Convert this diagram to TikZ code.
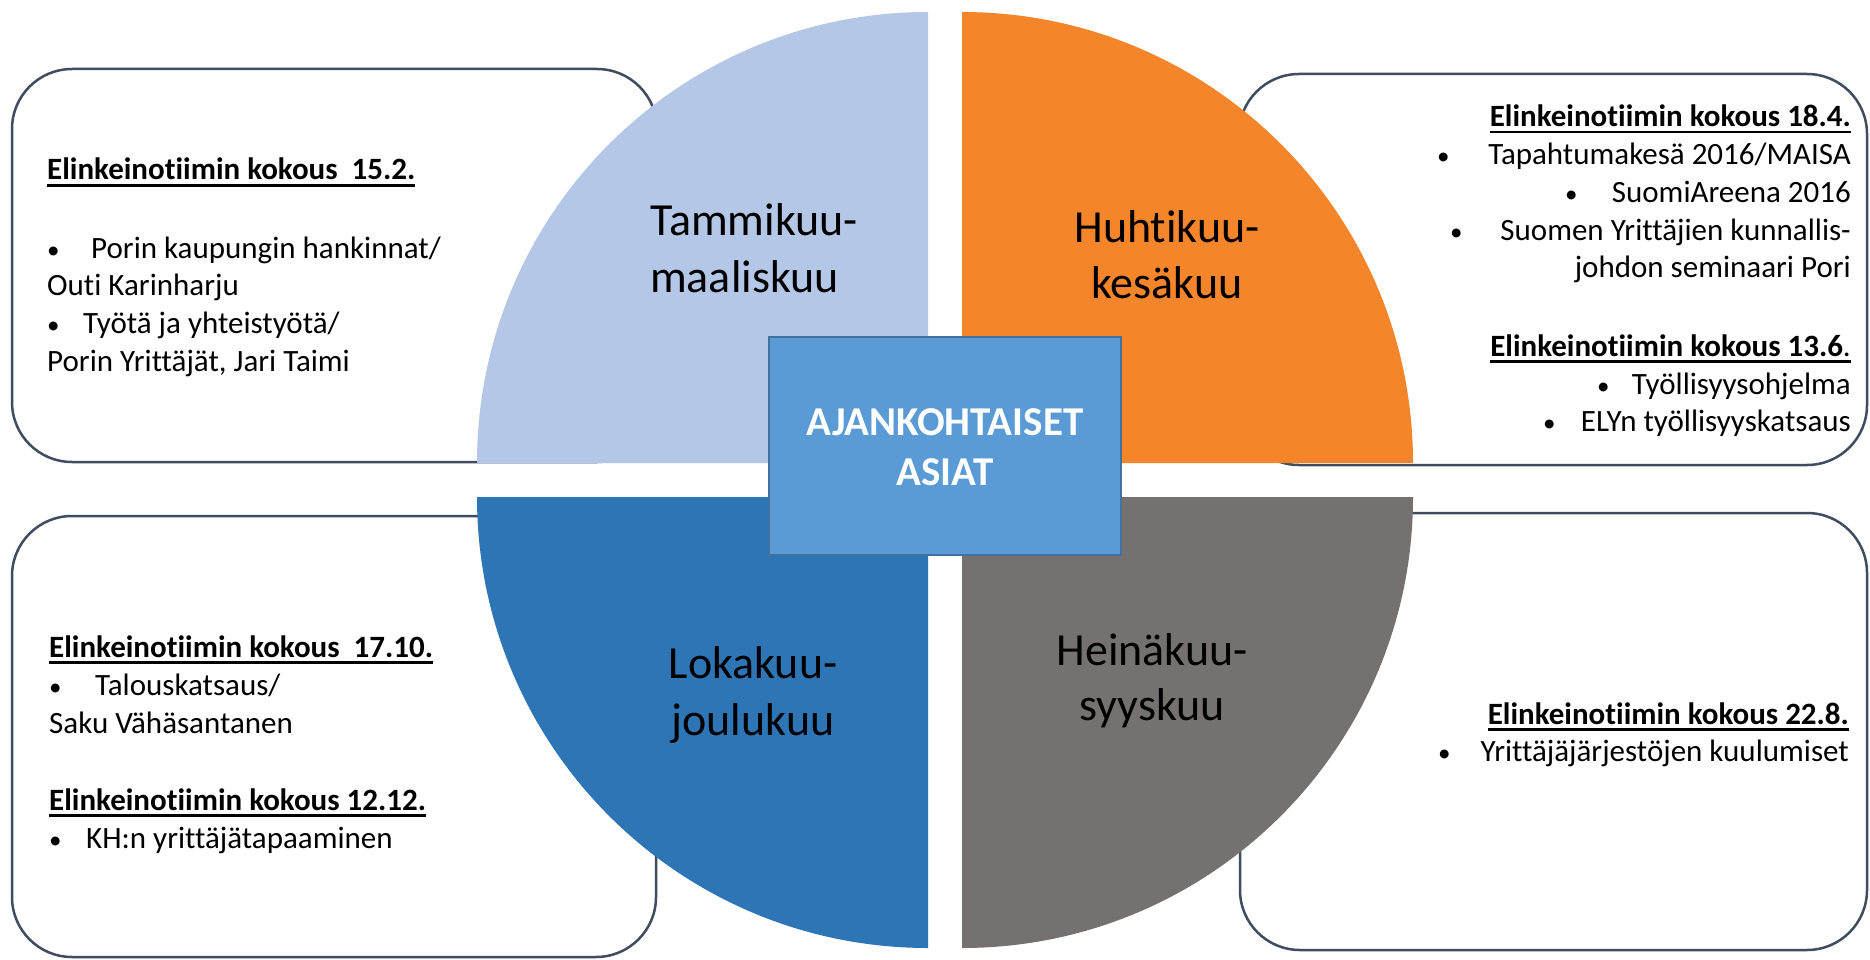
\documentclass[tikz,border=0pt]{standalone}
\usepackage{fontspec}
\setmainfont[Ligatures=NoCommon]{Carlito}
\definecolor{qlight}{HTML}{B4C7E7}
\definecolor{qorange}{HTML}{F4852A}
\definecolor{qblue}{HTML}{2E75B6}
\definecolor{qgray}{HTML}{767171}
\definecolor{cfill}{HTML}{5B9BD5}
\definecolor{cline}{HTML}{41719C}
\definecolor{bline}{HTML}{404D5F}
\newcommand\myul[1]{\setbox0\hbox{#1}\rlap{\rule[-6.5pt]{\wd0}{2.2pt}}\box0}
\tikzset{
  boxtxt/.style={inner sep=0pt, font=\fontsize{31}{37.5}\selectfont, text=black},
  lw/.style={boxtxt, anchor=base west},
  le/.style={boxtxt, anchor=base east},
  bul/.style={inner sep=0pt, anchor=base west, font=\fontsize{25}{30}\selectfont, text=black},
  qlabel/.style={inner sep=0pt, font=\fontsize{46}{56}\selectfont, text=black, anchor=base},
  clabel/.style={inner sep=0pt, font=\fontsize{41}{50}\selectfont\bfseries, text=white, anchor=base},
  infobox/.style={draw=bline, line width=2.5pt, fill=white, rounded corners=60pt},
}
\begin{document}
\begin{tikzpicture}[x=1pt,y=-1pt]
\useasboundingbox (0,0) rectangle (1870,960);
\fill[white] (0,0) rectangle (1870,960);

% info boxes (behind the quarters)
\draw[infobox] (12,69) rectangle (657,462);
\draw[infobox] (1239,74) rectangle (1867,465);
\draw[infobox] (12,516) rectangle (656,957);
\draw[infobox] (1240,513) rectangle (1867,950);

% quarters
\fill[qlight]  (928,463) -- (477,463) arc[start angle=180, end angle=90, radius=451pt] -- cycle;
\fill[qorange] (962,463) -- (962,12) arc[start angle=90, end angle=0, radius=451pt] -- cycle;
\fill[qblue]   (928,497) -- (477,497) arc[start angle=180, end angle=270, radius=451pt] -- cycle;
\fill[qgray]   (962,497) -- (1413,497) arc[start angle=0, end angle=-90, radius=451pt] -- cycle;

% quarter labels
\node[qlabel, anchor=base west] (q1a) at (650,235) {Tammikuu-};
\node[qlabel, anchor=base west] (q1b) at (650,292) {maaliskuu};
\node[qlabel] (q2a) at (1167,242) {Huhtikuu-};
\node[qlabel] (q2b) at (1167,298) {kesäkuu};
\node[qlabel] (q3a) at (753,678) {Lokakuu-};
\node[qlabel] (q3b) at (753,735) {joulukuu};
\node[qlabel] (q4a) at (1152,665) {Heinäkuu-};
\node[qlabel] (q4b) at (1152,720) {syyskuu};

% centre box
\node[draw=cline, fill=cfill, line width=2pt, minimum width=352pt, minimum height=218pt, inner sep=0pt] (centre) at (945,446) {};
\node[clabel] (c1) at (945,435) {AJANKOHTAISET};
\node[clabel] (c2) at (945,485) {ASIAT};

% top-left text
\node[lw] (t1h) at (47,180) {\myul{\textbf{Elinkeinotiimin kokous\ \ 15.2.}}};
\node[bul] (t1p1) at (47,258) {•};
\node[lw] (t1a) at (91,258) {Porin kaupungin hankinnat/};
\node[lw] (t1b) at (47,295) {Outi Karinharju};
\node[bul] (t1p2) at (47,333) {•};
\node[lw] (t1c) at (83,333) {Työtä ja yhteistyötä/};
\node[lw] (t1d) at (47,371) {Porin Yrittäjät, Jari Taimi};

% top-right text
\node[le] (t2h) at (1851,127) {\myul{\textbf{Elinkeinotiimin kokous 18.4.}}};
\node[bul] (t2p1) at (1437,165) {•};
\node[le] (t2a) at (1851,165) {Tapahtumakesä 2016/MAISA};
\node[bul] (t2p2) at (1565,202) {•};
\node[le] (t2b) at (1851,202) {SuomiAreena 2016};
\node[bul] (t2p3) at (1450,240) {•};
\node[le] (t2c) at (1851,240) {Suomen Yrittäjien kunnallis-};
\node[le] (t2d) at (1851,277) {johdon seminaari Pori};
\node[le] (t2h2) at (1851,356) {\myul{\textbf{Elinkeinotiimin kokous 13.6}.}};
\node[bul] (t2p4) at (1597,394) {•};
\node[le] (t2e) at (1851,394) {Työllisyysohjelma};
\node[bul] (t2p5) at (1543,431) {•};
\node[le] (t2f) at (1851,431) {ELYn työllisyyskatsaus};

% bottom-left text
\node[lw] (t3h) at (49,657) {\myul{\textbf{Elinkeinotiimin kokous\ \ 17.10.}}};
\node[bul] (t3p1) at (49,695) {•};
\node[lw] (t3a) at (95,695) {Talouskatsaus/};
\node[lw] (t3b) at (49,733) {Saku Vähäsantanen};
\node[lw] (t3h2) at (49,810) {\myul{\textbf{Elinkeinotiimin kokous 12.12.}}};
\node[bul] (t3p2) at (49,848) {•};
\node[lw] (t3c) at (86,848) {KH:n yrittäjätapaaminen};

% bottom-right text
\node[le] (t4h) at (1849,724) {\myul{\textbf{Elinkeinotiimin kokous 22.8.}}};
\node[bul] (t4p1) at (1438,761) {•};
\node[le] (t4a) at (1849,761) {Yrittäjäjärjestöjen kuulumiset};
\end{tikzpicture}
\end{document}
